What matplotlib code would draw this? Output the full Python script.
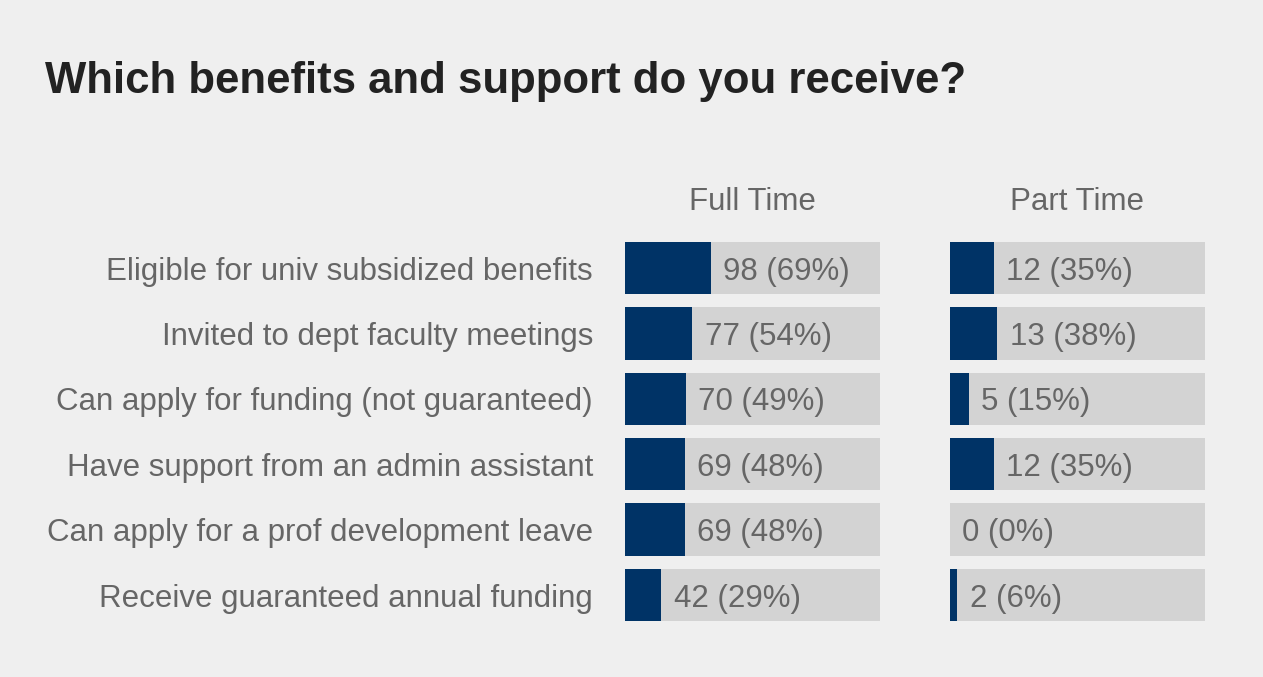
import matplotlib
matplotlib.use("Agg")
import matplotlib.pyplot as plt

plt.rcParams['font.family'] = ['Liberation Sans', 'DejaVu Sans']

# données
categories = [
    "Eligible for univ subsidized benefits",
    "Invited to dept faculty meetings",
    "Can apply for funding (not guaranteed)",
    "Have support from an admin assistant",
    "Can apply for a prof development leave",
    "Receive guaranteed annual funding",
]
full_counts = [98, 77, 70, 69, 69, 42]
full_pct = [69, 54, 49, 48, 48, 29]
part_counts = [12, 13, 5, 12, 0, 2]
part_pct = [35, 38, 15, 35, 0, 6]
groups = ["Full Time", "Part Time"]

bg = "#efefef"
dark = "#003366"
light = "#d3d3d3"
txt = "#666666"

W, H = 1263, 677
fig = plt.figure(figsize=(W / 100, H / 100), dpi=100, facecolor=bg)

fig.text(45 / W, 1 - 82 / H, "Which benefits and support do you receive?",
         fontsize=31.5, fontweight="bold", color="#222222", va="center", ha="left")

top, bottom = 235.3, 627.7
lefts = [625, 950]
width = 255
xmax = 205

series = [(full_counts, full_pct), (part_counts, part_pct)]
y = list(range(len(categories)))

for i, (counts, pct) in enumerate(series):
    ax = fig.add_axes([lefts[i] / W, 1 - bottom / H, width / W, (bottom - top) / H])
    ax.set_facecolor(bg)
    ax.barh(y, [xmax] * len(y), height=0.8, color=light)
    ax.barh(y, pct, height=0.8, color=dark)
    for yy, c, p in zip(y, counts, pct):
        ax.annotate(f"{c} ({p}%)", xy=(p, yy), xytext=(9, 0), textcoords="offset points",
                    va="center_baseline", ha="left", fontsize=22.5, color=txt)
    ax.set_xlim(0, xmax)
    ax.set_ylim(len(y) - 0.5, -0.5)
    ax.axis("off")
    ax.set_title(groups[i], fontsize=22.5, color=txt, pad=18)
    if i == 0:
        for yy, cat in zip(y, categories):
            ax.annotate(cat, xy=(0, yy), xytext=(-23, 0), textcoords="offset points",
                        va="center_baseline", ha="right", fontsize=22.5, color=txt)

fig.savefig("out.png", dpi=100, facecolor=bg)
